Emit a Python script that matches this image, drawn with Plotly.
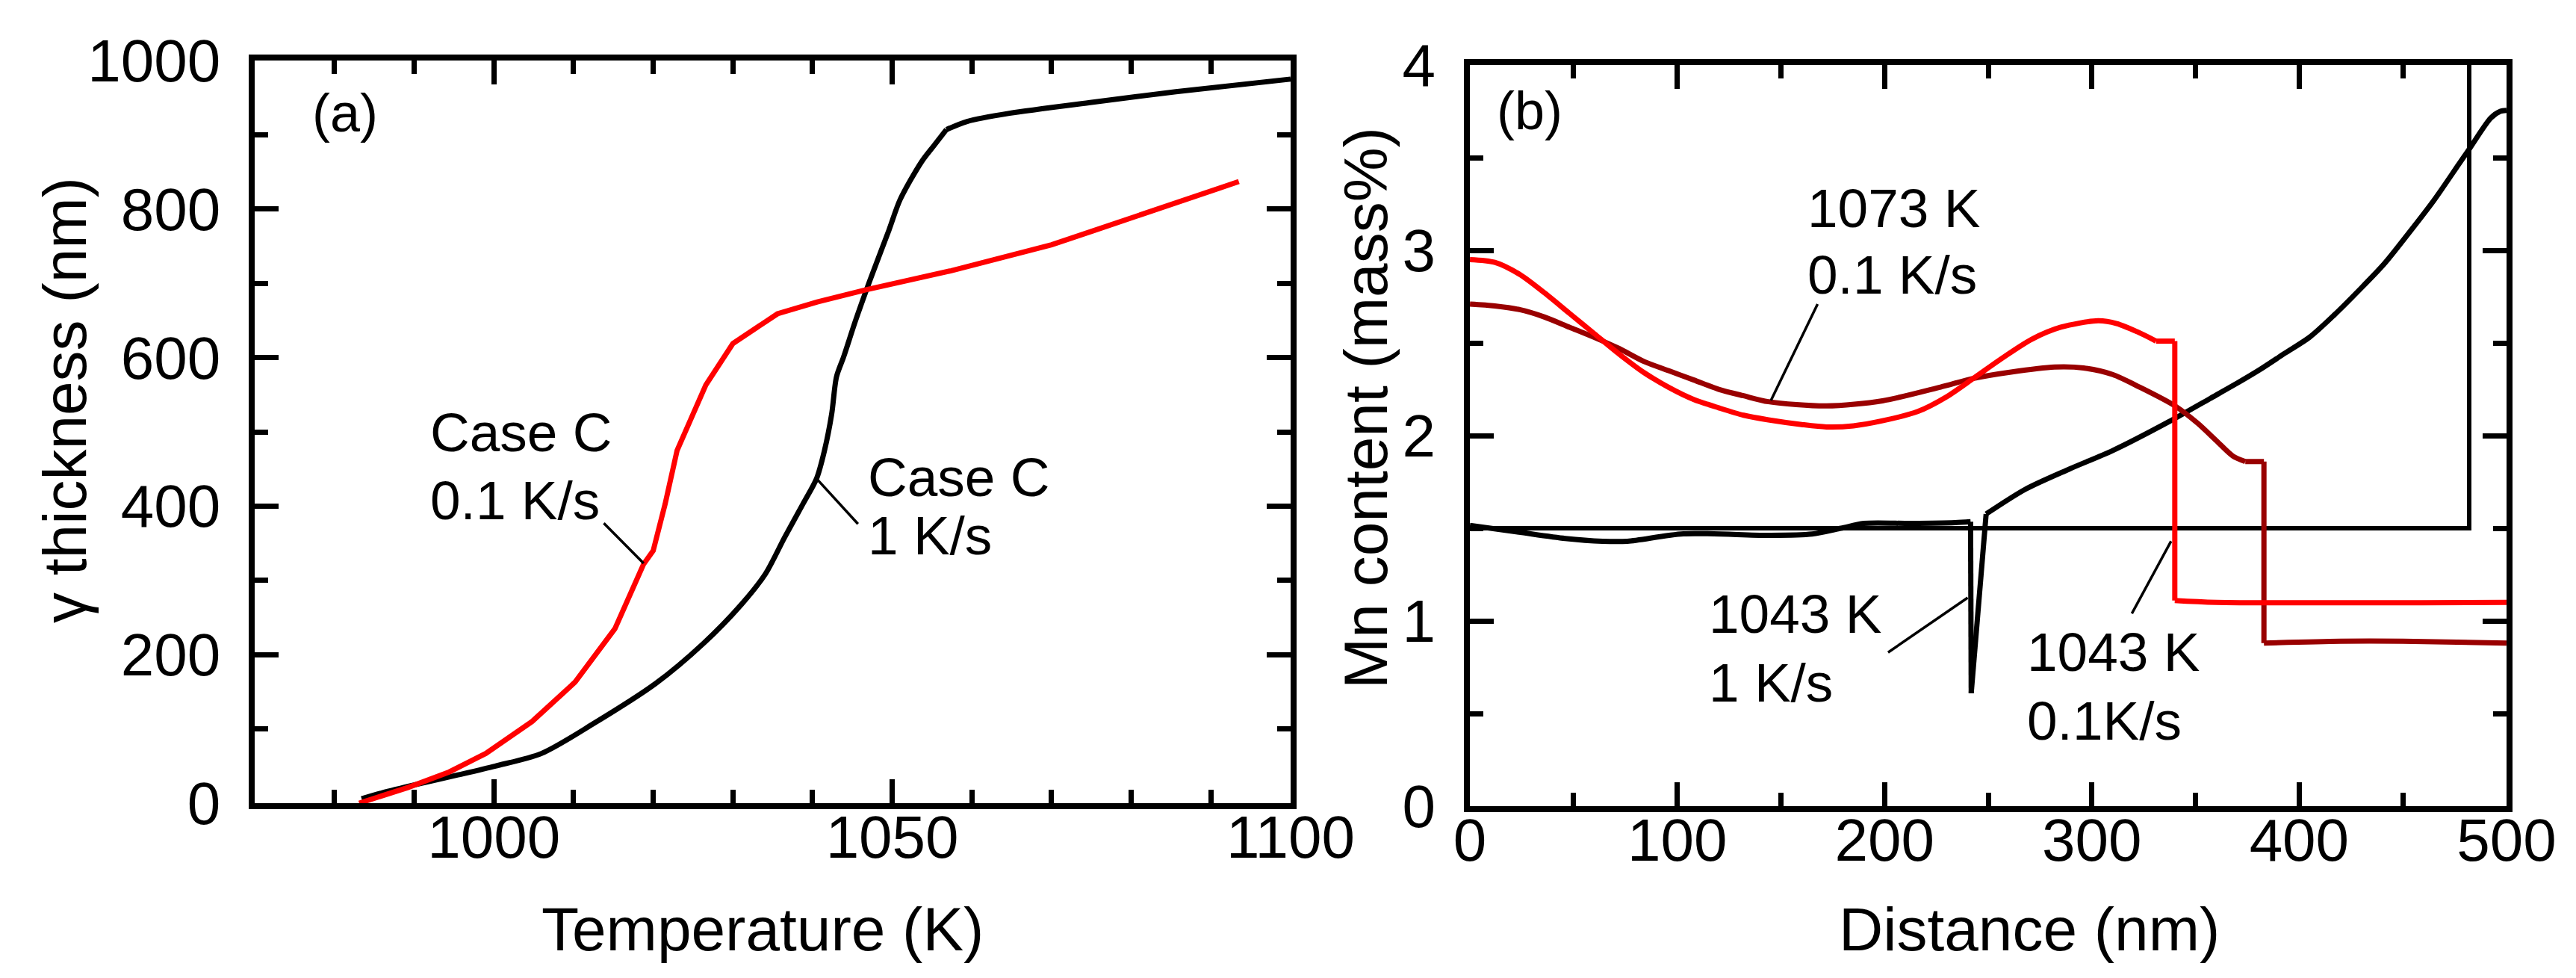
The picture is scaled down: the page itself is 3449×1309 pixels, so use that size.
import plotly.graph_objects as go
from plotly.subplots import make_subplots

# (a) gamma thickness vs temperature, Case C
temp_1k = [983.4, 986, 990.2, 995.5, 1000.2, 1006, 1012.5, 1020.3, 1026.3, 1031.1, 1034.1,
           1036.5, 1038.8, 1040.5, 1041.5, 1042.4, 1043.0, 1043.9, 1045.4, 1047.2, 1049.6,
           1051, 1053.7, 1055.2, 1056.8, 1059.4, 1064.7, 1075.2, 1085.6, 1100]
thick_1k = [6, 14, 25, 38, 50, 67, 107, 161, 215, 268, 309,
            358, 403, 437, 475, 524, 574, 601, 650, 704, 772,
            813, 864, 885, 907, 918, 929, 944, 958, 975]

temp_01k = [983.1, 989.2, 994.4, 999, 1004.8, 1010.2, 1015.2, 1018.8, 1020, 1021.5, 1023,
            1025.1, 1026.6, 1030, 1035.6, 1040.6, 1046.6, 1057.4, 1063.3, 1070, 1075.3,
            1080.4, 1087.7, 1093.5]
thick_01k = [0, 21, 42, 67, 110, 163, 235, 322, 340, 403, 475,
             529, 563, 619, 659, 675, 691, 717, 734, 752, 771,
             789, 816, 837]

# (b) Mn profiles
dist_1043_01k = [0, 12, 24, 36, 48, 60, 72, 84, 96, 108, 120, 132, 144, 160, 172, 185, 199, 216,
                 230, 243, 257, 271, 285, 303, 312, 322, 331, 340, 340, 360, 500]
mn_1043_01k = [2.95, 2.935, 2.87, 2.77, 2.66, 2.55, 2.44, 2.34, 2.26, 2.195, 2.15, 2.11, 2.085, 2.06,
               2.047, 2.053, 2.08, 2.13, 2.21, 2.31, 2.42, 2.52, 2.585, 2.62, 2.605, 2.56, 2.51, 2.51,
               1.11, 1.10, 1.10]

dist_1073_01k = [0, 12, 24, 36, 48, 60, 72, 84, 96, 108, 120, 132, 144, 172, 199, 227, 243, 261,
                 282, 296, 310, 323, 340, 351, 360, 368, 374, 383, 383, 420, 450, 500]
mn_1073_01k = [2.71, 2.70, 2.68, 2.64, 2.585, 2.53, 2.47, 2.40, 2.35, 2.30, 2.25, 2.215, 2.183, 2.16,
               2.188, 2.262, 2.309, 2.343, 2.37, 2.365, 2.33, 2.262, 2.161, 2.067, 1.973, 1.89, 1.86,
               1.86, 0.88, 0.89, 0.89, 0.88]

dist_1043_1k = [0, 23, 46, 64, 76, 103, 144, 165, 179, 190, 213, 234, 241.5, 241.8, 249,
                268, 289, 310, 337, 357, 369, 381, 393, 405, 417, 429, 441, 453, 465, 477, 482,
                492.4, 497, 500]
mn_1043_1k = [1.515, 1.48, 1.445, 1.43, 1.43, 1.47, 1.462, 1.469, 1.50, 1.526, 1.526, 1.53, 1.535, 0.61,
              1.577, 1.711, 1.819, 1.919, 2.074, 2.20, 2.276, 2.356, 2.444, 2.531, 2.652, 2.786, 2.927,
              3.095, 3.27, 3.465, 3.546, 3.714, 3.75, 3.755]

dist_init = [0, 482, 482]
mn_init = [1.5, 1.5, 4.0]

FONT = "Liberation Sans, Arial, sans-serif"
RED = "#ff0000"
DARKRED = "#990000"

fig = make_subplots(rows=1, cols=2)


def add_curve(x, y, color, col, breaks=(), width=7):
    # smooth pieces between the kinks / steps, straight where only two points
    idx = [0, *breaks, len(x) - 1]
    for a, b in zip(idx[:-1], idx[1:]):
        sx, sy = x[a:b + 1], y[a:b + 1]
        shape = "spline" if len(sx) > 2 else "linear"
        fig.add_trace(go.Scatter(x=sx, y=sy, mode="lines",
                                 line=dict(color=color, width=width, shape=shape, smoothing=0.8)),
                      row=1, col=col)


add_curve(temp_1k, thick_1k, "black", 1, breaks=(24,))
fig.add_trace(go.Scatter(x=temp_01k, y=thick_01k, mode="lines",
                         line=dict(color=RED, width=7)), row=1, col=1)

fig.add_trace(go.Scatter(x=dist_init, y=mn_init, mode="lines",
                         line=dict(color="black", width=6)), row=1, col=2)
add_curve(dist_1043_1k, mn_1043_1k, "black", 2, breaks=(12, 13, 14))
add_curve(dist_1073_01k, mn_1073_01k, DARKRED, 2, breaks=(26, 27, 28))
add_curve(dist_1043_01k, mn_1043_01k, RED, 2, breaks=(26, 27, 28))

axis_style = dict(showline=True, linewidth=8, linecolor="black", mirror="ticks",
                  ticks="inside", ticklen=32, tickwidth=7, tickcolor="black",
                  showgrid=False, zeroline=False, automargin=False,
                  tickfont=dict(family=FONT, size=80, color="black"))

fig.update_xaxes(**axis_style, ticklabelstandoff=-31)
fig.update_yaxes(**axis_style, ticklabelstandoff=22)

fig.update_xaxes(range=[970, 1100], tick0=1000, dtick=50, domain=[0.0966, 0.4987],
                 minor=dict(dtick=10, ticks="inside", ticklen=18, tickwidth=7, tickcolor="black"),
                 row=1, col=1)
fig.update_yaxes(range=[0, 1000], dtick=200, domain=[0.1849, 0.9442],
                 minor=dict(dtick=100, ticks="inside", ticklen=18, tickwidth=7, tickcolor="black"),
                 row=1, col=1)
fig.update_xaxes(range=[0, 500], dtick=100, domain=[0.5683, 0.9707],
                 minor=dict(dtick=50, ticks="inside", ticklen=18, tickwidth=7, tickcolor="black"),
                 row=1, col=2)
fig.update_yaxes(range=[0, 4], dtick=1, domain=[0.1818, 0.9396],
                 minor=dict(dtick=0.5, ticks="inside", ticklen=18, tickwidth=7, tickcolor="black"),
                 row=1, col=2)

ann = []


def label(text, x, y, xref, yref, size=73):
    ann.append(dict(text=text, x=x, y=y, xref=xref, yref=yref, xanchor="left", yanchor="middle",
                    showarrow=False, font=dict(family=FONT, size=size, color="black")))


def title(text, x, y, angle=0):
    ann.append(dict(text=text, x=x, y=y, xref="paper", yref="paper", xanchor="center",
                    yanchor="middle", textangle=angle, showarrow=False,
                    font=dict(family=FONT, size=82, color="black")))


# panel labels
label("(a)", 977.0, 930, "x", "y", size=72)
label("(b)", 12.2, 3.754, "x2", "y2", size=72)

# curve labels
label("Case C", 991.8, 500, "x", "y")
label("0.1 K/s", 991.8, 408, "x", "y")
label("Case C", 1046.8, 439, "x", "y")
label("1 K/s", 1046.8, 361, "x", "y")
label("1073 K", 162, 3.228, "x2", "y2")
label("0.1 K/s", 162, 2.87, "x2", "y2")
label("1043 K", 114.5, 1.04, "x2", "y2")
label("1 K/s", 114.5, 0.669, "x2", "y2")
label("1043 K", 268, 0.831, "x2", "y2")
label("0.1K/s", 268, 0.46, "x2", "y2")

# axis titles
title("Temperature (K)", 1013 / 3449, 1 - 1235 / 1309)
title("Distance (nm)", 2709 / 3449, 1 - 1235 / 1309)
title("γ thickness (nm)", 78 / 3449, 1 - 528 / 1309, angle=-90)
title("Mn content (mass%)", 1820 / 3449, 1 - 538 / 1309, angle=-90)

# leader lines
leaders = [
    ("x", "y", 1013.8, 377, 1018.8, 323),
    ("x", "y", 1040.5, 437, 1045.7, 376),
    ("x2", "y2", 167.7, 2.71, 145.2, 2.19),
    ("x2", "y2", 201.7, 0.83, 240.1, 1.125),
    ("x2", "y2", 319.3, 1.04, 338.2, 1.43),
]
shapes = [dict(type="line", xref=xr, yref=yr, x0=x0, y0=y0, x1=x1, y1=y1,
               line=dict(color="black", width=3.5)) for xr, yr, x0, y0, x1, y1 in leaders]

fig.update_layout(width=3449, height=1309, margin=dict(l=0, r=0, t=0, b=0),
                  paper_bgcolor="white", plot_bgcolor="white", showlegend=False,
                  annotations=ann, shapes=shapes, font=dict(family=FONT))

fig.write_html("out.html")
